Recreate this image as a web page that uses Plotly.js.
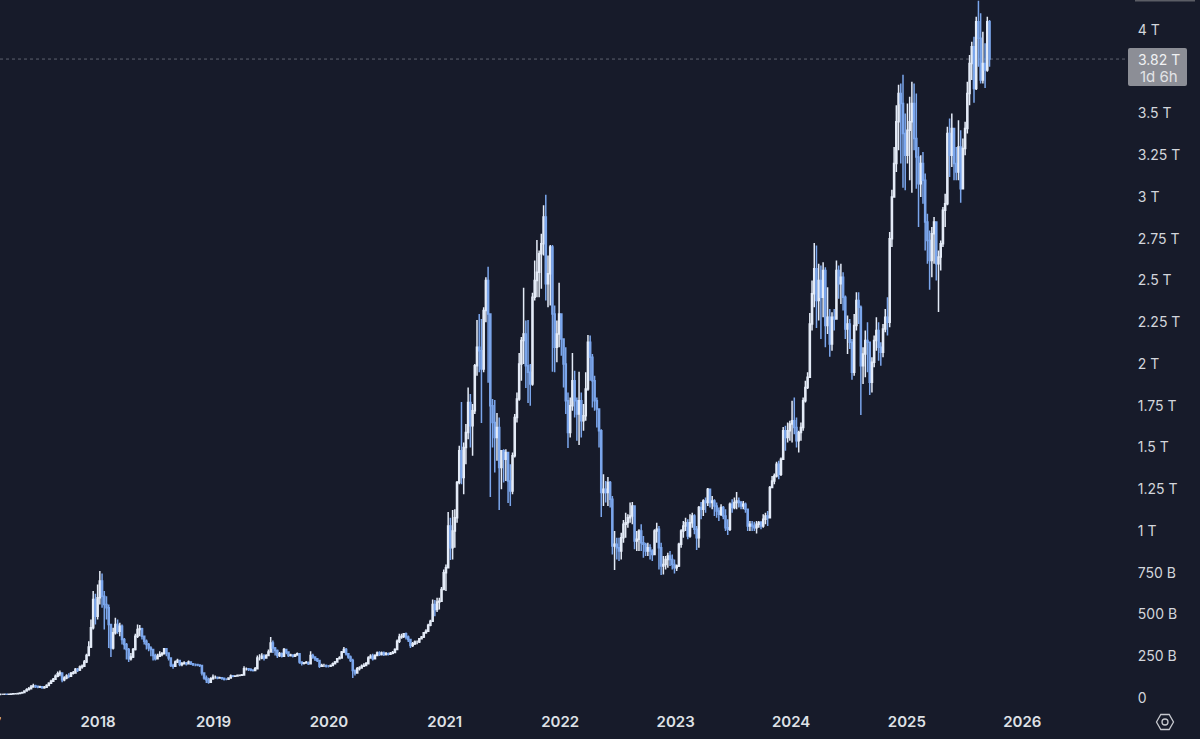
<!DOCTYPE html>
<html>
<head>
<meta charset="utf-8">
<script src="https://cdn.plot.ly/plotly-3.0.1.min.js"></script>
<style>html,body{margin:0;padding:0;background:#171b2a;overflow:hidden}#chart{width:1200px;height:739px}</style>
</head>
<body>
<div id="chart"></div>
<script>
// Weekly total market cap candles, in billions, one block per calendar year.
var firstWeek = '2017-02-25';
var candleDays = 7.014;
var firstOpen = 21;
var lastPrice = 3826;

var close2017 = [22,22,23,22,23,24,25,26,27,30,33,42,50,56,66,72,70,66,68,62,64,75,88,100,112,130,145,150,110,120,132,130,148,150,172,168,185,190,215,255,305,420,590,490,600];
var high2017  = [23,24,25,24,25,26,27,28,30,33,38,46,58,66,78,85,80,75,74,72,72,82,95,110,120,140,158,165,150,130,142,148,155,162,180,180,195,200,228,265,340,470,640,625,680];
var low2017   = [20,21,21,20,21,22,23,24,25,26,30,32,40,48,54,62,60,58,60,56,56,62,72,86,96,110,125,130,95,100,112,118,128,140,148,155,162,175,185,210,250,300,410,440,470];

var close2018 = [700,610,560,540,440,300,390,440,400,430,350,320,290,235,245,290,370,410,415,370,340,320,300,290,255,235,250,260,265,295,270,240,195,190,215,225,200,205,210,205,215,205,200,200,198,195,150,120,110,95,115,125];
var high2018  = [760,745,640,610,560,440,420,480,470,450,440,360,330,300,270,300,385,440,437,420,375,350,330,310,295,265,265,280,275,300,300,272,240,205,225,235,228,215,220,215,225,218,210,206,205,202,198,152,135,122,125,140];
var low2018   = [560,540,410,470,300,245,290,380,385,370,320,290,230,215,225,240,285,360,370,350,320,290,280,250,225,225,232,245,250,262,250,225,185,175,185,210,190,190,200,195,200,198,192,190,190,185,135,110,90,85,90,110];

var close2019 = [125,120,122,118,112,112,120,132,130,132,135,136,138,175,175,172,168,165,175,240,240,250,240,255,275,330,300,285,255,265,250,290,275,255,258,250,258,265,215,208,210,212,205,255,245,235,225,190,195,195,190,190];
var high2019  = [135,128,128,125,120,118,125,140,138,136,140,140,144,190,182,180,178,172,185,255,262,268,262,262,290,365,345,305,290,275,272,300,295,280,265,262,265,272,268,218,216,222,218,280,265,250,240,228,205,205,200,198];
var low2019   = [115,112,115,110,105,106,110,120,125,126,130,132,134,136,165,162,160,158,162,175,225,232,225,236,255,280,270,255,240,245,242,248,262,245,248,242,248,255,205,195,200,205,198,200,235,222,215,180,185,185,182,182];

var close2020 = [195,205,215,235,240,275,290,265,245,225,165,150,175,180,190,195,205,240,250,235,255,270,260,270,260,265,262,268,272,290,340,365,370,385,365,350,315,325,335,335,355,365,390,400,435,460,560,530,575,580,650,750];
var high2020  = [200,212,222,240,250,282,306,300,270,255,235,170,185,190,200,208,215,250,262,265,262,278,280,278,278,275,272,275,282,298,350,385,385,389,392,375,355,335,345,345,360,372,395,412,445,468,590,587,600,600,665,770];
var low2020   = [185,192,205,212,230,238,270,255,235,215,120,135,145,165,175,185,192,200,235,225,232,250,252,255,252,255,255,258,262,268,288,330,355,360,350,335,300,305,318,322,330,350,360,385,395,430,455,490,515,530,575,645];

var close2021 = [780,1030,900,1000,1080,1290,1480,1320,1500,1590,1770,1630,1720,1990,2100,2080,1970,2320,2500,2300,1750,1650,1560,1620,1380,1480,1430,1470,1300,1240,1450,1680,1790,2000,2140,2180,1990,1950,1880,2400,2500,2550,2660,2720,2880,2480,2540,2700,2300,2100,2180,2300];
var high2021  = [800,1114,1080,1126,1130,1300,1510,1773,1530,1640,1860,1820,1760,2000,2264,2300,2270,2340,2520,2582,2300,1790,1785,1707,1680,1485,1490,1490,1460,1400,1470,1700,1830,2066,2162,2456,2260,2264,2000,2426,2620,2743,2680,2780,2950,3013,2650,2713,2713,2350,2260,2486];
var low2021   = [640,780,826,830,900,1050,1280,1280,1220,1400,1550,1500,1450,1700,1930,1950,1647,1950,2250,1887,1204,1500,1350,1420,1126,1250,1290,1300,1168,1150,1220,1440,1650,1780,1900,2000,1857,1767,1750,1870,2380,2400,2400,2450,2650,2380,2340,2350,1953,1950,2010,2100];

var close2022 = [2150,2000,1780,1590,1750,1900,1780,1700,1780,1660,1690,1850,2130,2040,1900,1780,1730,1600,1230,1250,1230,1290,1190,910,920,900,880,960,1040,1050,1080,1090,1150,940,950,1000,930,920,880,900,880,860,1000,1010,900,790,800,830,850,830,800,780];
var high2022  = [2290,2126,2100,1830,1800,2066,1960,1800,1953,1830,1760,1950,2174,2170,2060,1930,1800,1730,1610,1340,1300,1324,1300,1210,1000,960,960,990,1066,1110,1100,1170,1174,1140,1000,1010,1040,970,930,930,920,890,1010,1050,1030,930,850,850,870,880,860,830];
var low2022   = [2050,1860,1700,1497,1560,1720,1680,1540,1515,1560,1600,1660,1840,1900,1740,1720,1620,1500,1084,1150,1170,1150,1140,860,767,830,820,830,930,960,1020,1050,1040,890,880,880,880,840,850,850,830,820,860,930,770,736,740,770,780,790,770,745];

var close2023 = [790,920,1000,1030,1050,970,1050,1090,1010,960,1140,1130,1180,1170,1250,1170,1180,1150,1120,1100,1140,1090,1020,1010,1160,1140,1170,1180,1170,1150,1160,1130,1030,1040,1030,1020,1040,1050,1030,1070,1090,1080,1260,1300,1330,1400,1340,1430,1600,1560,1600,1640];
var high2023  = [800,930,1010,1060,1080,1070,1100,1110,1100,1030,1150,1174,1190,1200,1258,1250,1210,1190,1170,1140,1160,1150,1130,1070,1170,1190,1200,1234,1200,1180,1180,1170,1110,1060,1060,1055,1060,1060,1060,1100,1110,1120,1270,1330,1345,1414,1420,1440,1623,1630,1650,1660];
var low2023   = [760,785,900,960,1000,950,960,1020,980,886,900,1070,1090,1110,1150,1140,1130,1090,1080,1060,1090,1070,1000,976,1000,1110,1130,1130,1140,1130,1130,1110,1000,1000,1000,1000,985,1020,1010,1020,1040,1030,1080,1270,1280,1320,1310,1330,1430,1480,1530,1540];

var close2024 = [1660,1620,1540,1590,1620,1780,1860,1920,2240,2420,2570,2380,2500,2400,2560,2230,2280,2120,2280,2270,2560,2480,2520,2400,2210,2240,2130,1950,2230,2380,2340,1990,2060,2140,2130,1890,2010,2140,2200,2100,2070,2210,2280,2250,2750,3000,3200,3450,3620,3560,3380,3250];
var high2024  = [1780,1800,1680,1600,1650,1800,1900,1950,2306,2500,2725,2710,2600,2590,2610,2580,2460,2330,2310,2330,2620,2590,2600,2550,2410,2290,2270,2150,2300,2430,2430,2350,2100,2200,2250,2120,2040,2170,2280,2250,2130,2240,2330,2400,2790,3043,3300,3550,3672,3680,3732,3500];
var low2024   = [1530,1580,1500,1470,1540,1600,1770,1850,1920,2200,2340,2216,2260,2150,2280,2100,2180,2043,2080,2200,2270,2390,2360,2320,2150,2060,2090,1905,1930,2200,2240,1695,1880,1920,1950,1815,1830,1980,2080,2020,1990,2040,2190,2170,2220,2700,3000,3150,3280,3200,3055,3040];

var close2025 = [3400,3450,3560,3350,3240,3080,3200,3100,2850,2740,2620,2780,2850,2600,2640,2720,2920,2960,3380,3250,3410,3200,3150,3300,3050,3290,3410,3620,3800,3900,3650,4050,3950,3700,3800,3760,4050,lastPrice];
var high2025  = [3560,3600,3690,3680,3620,3300,3250,3270,3140,2900,2800,2820,2880,2830,2680,2740,2940,3020,3420,3470,3500,3380,3300,3460,3400,3350,3450,3690,3850,3930,3960,4080,4175,4100,3990,3920,4080,4060];
var low2025   = [3200,3100,3025,3280,3050,2821,3000,2960,2680,2600,2444,2520,2600,2500,2312,2560,2700,2820,2950,3120,3180,3100,3100,3100,2965,3050,3250,3380,3550,3700,3564,3640,3780,3680,3680,3653,3750,3780];

var yTickValues = [0,250,500,750,1000,1250,1500,1750,2000,2250,2500,2750,3000,3250,3500,4000];
var yTickLabels = ['0','250 B','500 B','750 B','1 T','1.25 T','1.5 T','1.75 T','2 T','2.25 T','2.5 T','2.75 T','3 T','3.25 T','3.5 T','4 T'];
var xTickValues = ['2018-01-01','2019-01-01','2020-01-01','2021-01-01','2022-01-01','2023-01-01','2024-01-01','2025-01-01','2026-01-01'];
var xTickLabels = ['2018','2019','2020','2021','2022','2023','2024','2025','2026'];

var closes = [].concat(close2017,close2018,close2019,close2020,close2021,close2022,close2023,close2024,close2025);
var highs  = [].concat(high2017,high2018,high2019,high2020,high2021,high2022,high2023,high2024,high2025);
var lows   = [].concat(low2017,low2018,low2019,low2020,low2021,low2022,low2023,low2024,low2025);
var opens  = [firstOpen].concat(closes.slice(0,-1));
var weeks  = closes.map(function(_,i){
  return new Date(Date.parse(firstWeek+'T00:00:00Z') + Math.round(i*candleDays*864e5)).toISOString().slice(0,19).replace('T',' ');
});

var BG='#171b2a', TXT='#d3d6dc';
var trace = {
  type:'candlestick', x:weeks, open:opens, high:highs, low:lows, close:closes,
  whiskerwidth:0, hoverinfo:'skip',
  increasing:{line:{color:'#e4ebf7',width:1.5},fillcolor:'#e4ebf7'},
  decreasing:{line:{color:'#7ba6ec',width:1.5},fillcolor:'#7ba6ec'}
};
var iconY = -17/705;
var layout = {
  width:1200,height:739,autosize:false,showlegend:false,
  paper_bgcolor:BG,plot_bgcolor:BG,
  margin:{l:0,r:72,t:0,b:34,pad:0},
  font:{family:'Inter, sans-serif',color:TXT},
  xaxis:{type:'date',range:['2017-02-25','2026-12-01'],rangeslider:{visible:false},
    tickmode:'array',tickvals:xTickValues,ticktext:xTickLabels,
    tickfont:{family:'Inter',size:15,color:'#dfe1e6',weight:600},
    showgrid:false,zeroline:false,showline:false,ticks:'outside',ticklen:3,tickcolor:'rgba(0,0,0,0)'},
  yaxis:{side:'right',range:[-41.9,4179.6],tickmode:'array',tickvals:yTickValues,ticktext:yTickLabels,
    tickfont:{family:'Inter',size:14,color:TXT},
    showgrid:false,zeroline:false,showline:false,ticks:'outside',ticklen:6,tickcolor:'rgba(0,0,0,0)'},
  shapes:[
    {type:'line',xref:'paper',x0:0,x1:1,yref:'y',y0:lastPrice,y1:lastPrice,line:{color:'rgba(190,195,205,0.42)',width:1,dash:'dot'},layer:'below'},
    {type:'path',xref:'paper',xsizemode:'pixel',xanchor:1,yref:'y',ysizemode:'pixel',yanchor:lastPrice,
     path:'M 2 11 L 57 11 Q 59 11 59 9 L 59 -25 Q 59 -27 57 -27 L 2 -27 Q 0 -27 0 -25 L 0 9 Q 0 11 2 11 Z',
     fillcolor:'#8c8e96',line:{width:0},layer:'above'},
    {type:'rect',xref:'paper',xsizemode:'pixel',xanchor:1,x0:7,x1:67,yref:'paper',y0:0.9979,y1:1,fillcolor:'#5b5d65',line:{width:0}},
    {type:'path',xref:'paper',xsizemode:'pixel',xanchor:1,yref:'paper',ysizemode:'pixel',yanchor:iconY,
     path:'M 28.5 0 L 32.8 7.5 L 41.2 7.5 L 45.5 0 L 41.2 -7.5 L 32.8 -7.5 Z',
     fillcolor:'rgba(0,0,0,0)',line:{color:'#c6c8ce',width:1.3}},
    {type:'circle',xref:'paper',xsizemode:'pixel',xanchor:1,x0:34,x1:40,yref:'paper',ysizemode:'pixel',yanchor:iconY,y0:-3,y1:3,
     fillcolor:'rgba(0,0,0,0)',line:{color:'#c6c8ce',width:1.3}}
  ],
  annotations:[
    {xref:'paper',x:1,xanchor:'left',xshift:8,yref:'y',y:lastPrice,yanchor:'middle',showarrow:false,text:'3.82 T',font:{family:'Inter',size:14,color:'#f0f1f3'}},
    {xref:'paper',x:1,xanchor:'left',xshift:10,yref:'y',y:lastPrice,yanchor:'middle',yshift:-17,showarrow:false,text:'1d 6h',font:{family:'Inter',size:15,color:'#e2e3e6'}},
    {xref:'paper',x:-15.5/1128,xanchor:'center',yref:'paper',y:iconY,yanchor:'middle',showarrow:false,text:'2017',font:{family:'Inter',size:15,color:'#dfe1e6',weight:600}}
  ]
};
Plotly.newPlot('chart',[trace],layout,{displayModeBar:false,staticPlot:true});
</script>
</body>
</html>
